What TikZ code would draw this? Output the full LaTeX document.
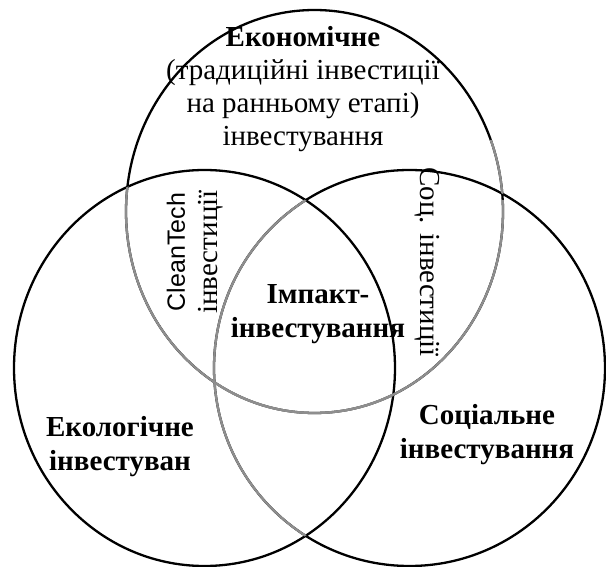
\documentclass[tikz,border=0pt]{standalone}
\usepackage{fontspec}
\setmainfont{Liberation Serif}
\setsansfont{Liberation Sans}
\definecolor{ringgray}{HTML}{8E8E8E}

\begin{document}
\begin{tikzpicture}[x=1pt,y=-1pt,
    ring/.style={line width=2.3pt},
    ringtext/.style={align=center, font=\fontsize{29}{33}\selectfont},
    ringbold/.style={align=center, font=\fontsize{29}{34}\selectfont\bfseries}]
  \useasboundingbox (0,0) rectangle (606,567);
  % centres of the three circles
  \coordinate (econ) at (314.5,211.5);
  \coordinate (eco) at (204.5,368);
  \coordinate (soc) at (409.5,368);
  \draw[ring] (econ) ellipse [x radius=188.5, y radius=201.5];
  \draw[ring] (eco) ellipse [x radius=190.5, y radius=198];
  \draw[ring] (soc) ellipse [x radius=195.5, y radius=198];
  % grey arcs inside the lower circles
  \begin{scope}
    \clip (eco) ellipse [x radius=190.5, y radius=198];
    \draw[ring, ringgray] (econ) ellipse [x radius=188.5, y radius=201.5];
    \draw[ring, ringgray] (soc) ellipse [x radius=195.5, y radius=198];
  \end{scope}
  \begin{scope}
    \clip (soc) ellipse [x radius=195.5, y radius=198] (460,140) rectangle (520,200);
    \draw[ring, ringgray] (econ) ellipse [x radius=188.5, y radius=201.5];
  \end{scope}
  % labels
  \node[ringtext] (econtext) at (303,89) {\textbf{Економічне}\\(традиційні інвестиції\\на ранньому етапі)\\інвестування};
  \node[ringtext, rotate=90] (cleantext) at (195,252) {{\sffamily\fontsize{25}{30}\selectfont CleanTech}\\інвестиції};
  \node[ringtext, rotate=-90] (soctext) at (427,262) {Соц. інвестиції};
  \node[ringbold] (impact) at (318,314) {Імпакт-\\інвестування};
  \node[ringbold] (ecotext) at (120,447) {Екологічне\\інвестуван};
  \node[ringbold] (socialtext) at (487,435) {Соціальне\\інвестування};
\end{tikzpicture}
\end{document}
